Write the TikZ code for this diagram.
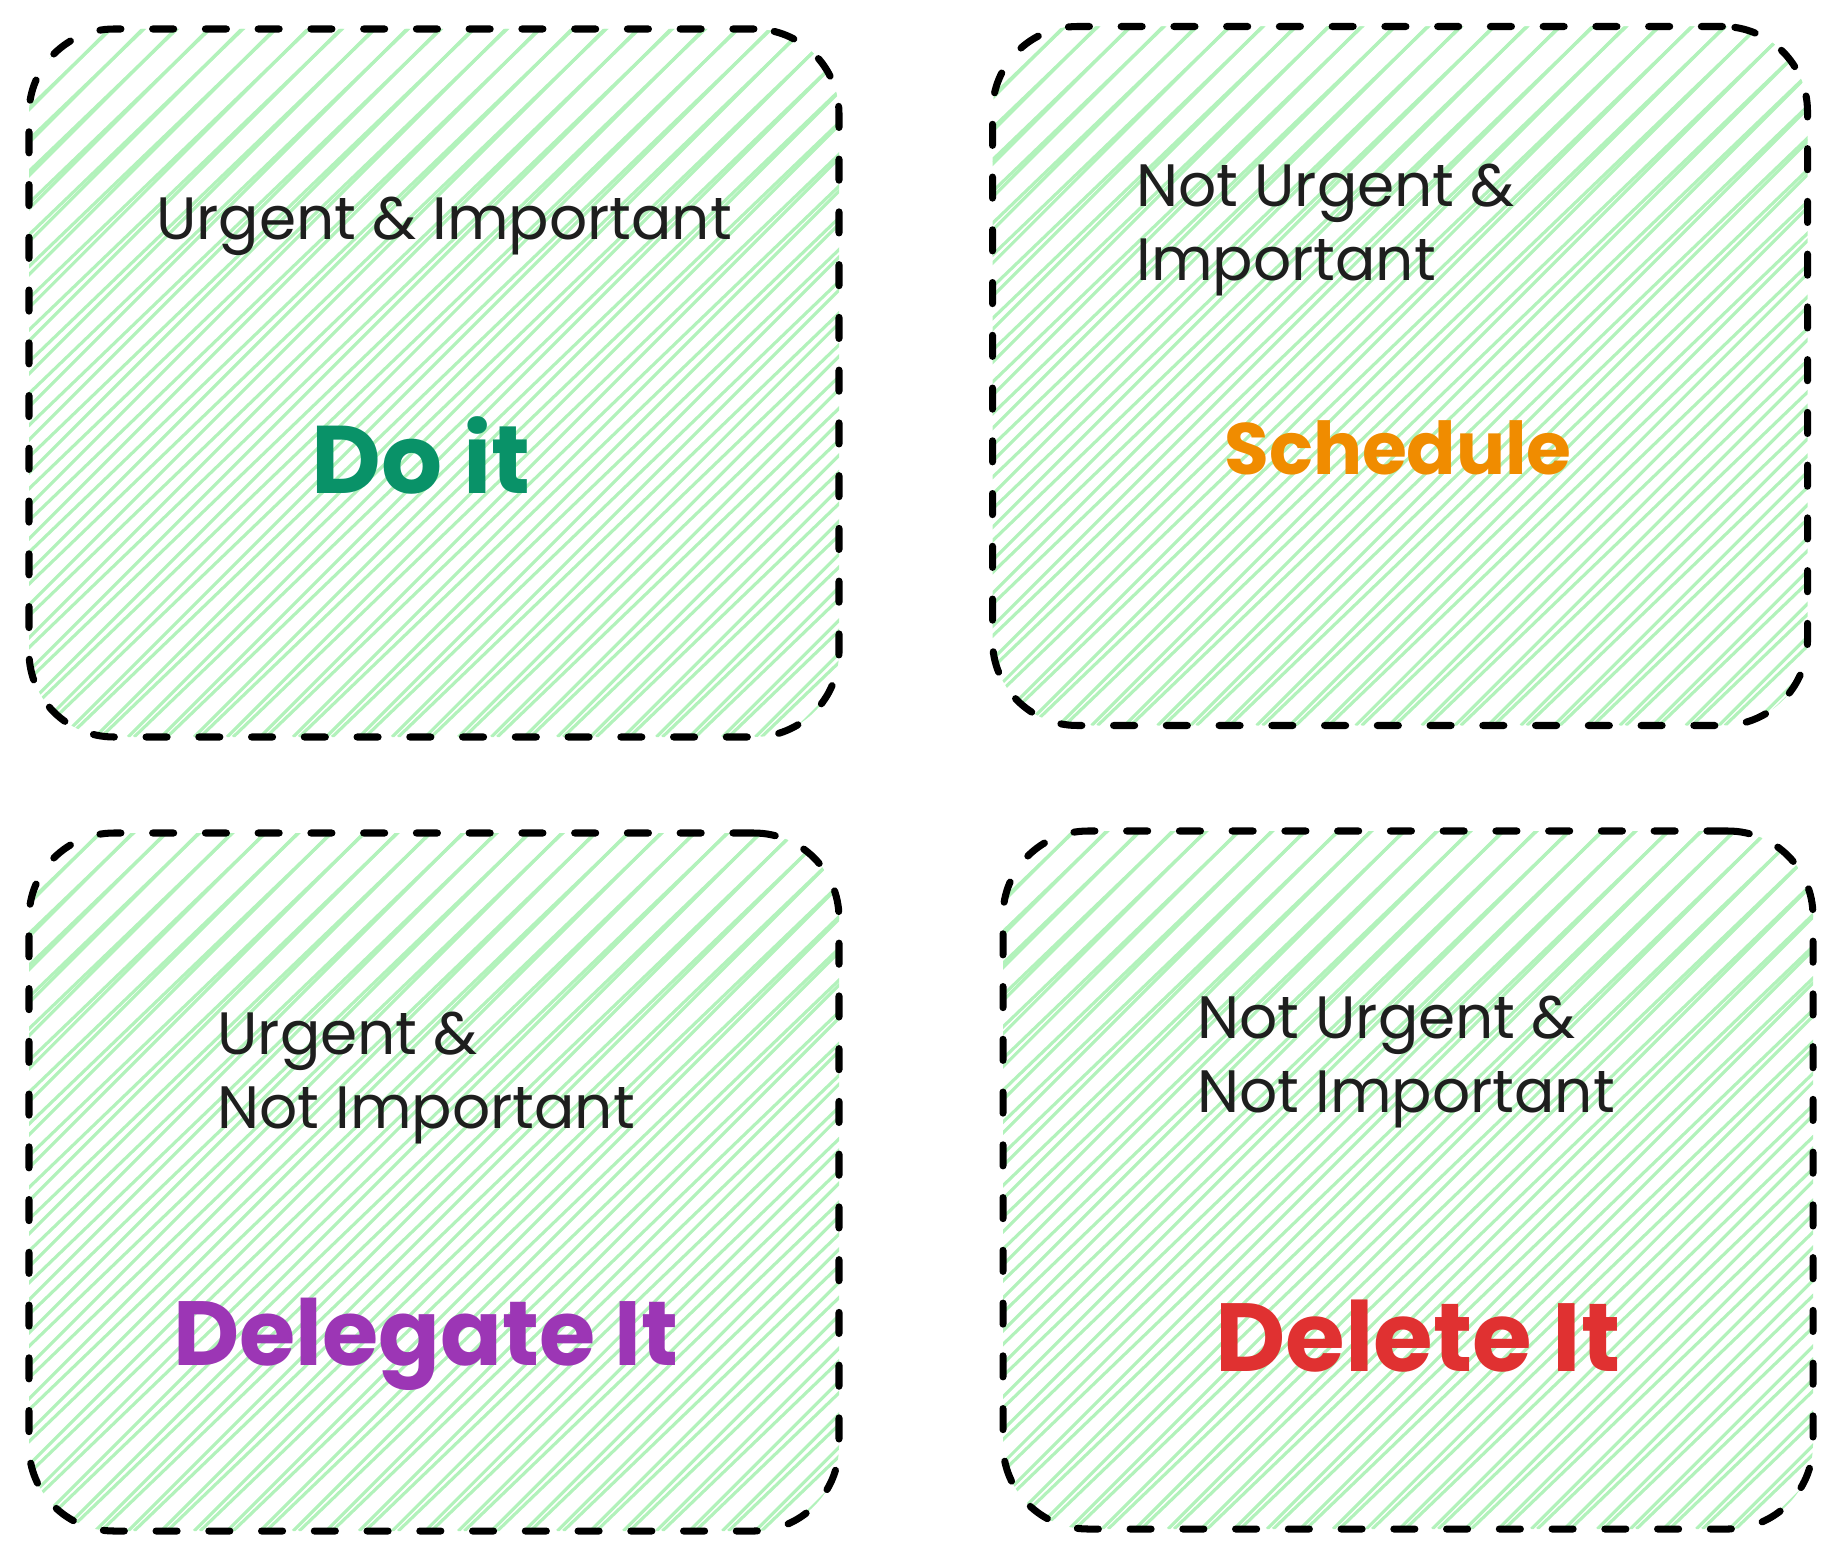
\documentclass[tikz,border=0pt]{standalone}
\usepackage{fontspec}
\usetikzlibrary{calc}
\setmainfont{Poppins}
\definecolor{hatchGreen}{HTML}{B2F2BB}
\definecolor{inkBlack}{HTML}{1E1E1E}
\definecolor{doGreen}{HTML}{099268}
\definecolor{scheduleOrange}{HTML}{F08C00}
\definecolor{delegatePurple}{HTML}{9C36B5}
\definecolor{deleteRed}{HTML}{E03131}
\begin{document}
\begin{tikzpicture}
[x=0.01cm,y=-0.01cm,
  hatchDecorate/.style={-,solid,line cap=butt,hatchGreen,line width=0.9pt},%
  boxDecorate/.style={shape=rectangle,rounded corners=0.85cm,draw=black,
    line width=2pt,line cap=round,dash pattern=on 6pt off 9pt,
    path picture={
      \foreach \k in {-23,...,26}
      {
        \draw[hatchDecorate] ($(path picture bounding box.south west)+(\k*0.33cm,0)$) -- ++(10cm,10cm);
        \draw[hatchDecorate] ($(path picture bounding box.south west)+(\k*0.33cm+0.06cm,0)$) -- ++(10.4cm,10cm);
      }
    }},
  titleDecorate/.style={inkBlack,align=left,font=\fontsize{17}{21}\selectfont},
  actionDecorate/.style={font=\fontsize{#1}{36}\selectfont\bfseries},
  scale=1]
\useasboundingbox (0,0) rectangle (1840,1558);
%% quadrants
\foreach \boxname/\x/\y/\w/\h in {
  doBox/434/383/810/708, scheduleBox/1400/376/815/699,
  delegateBox/434/1182/810/698, deleteBox/1408/1180/810/698}
{
  \node (\boxname) at (\x,\y) [boxDecorate,minimum width=\w*0.01cm,minimum height=\h*0.01cm] {};
}
%% quadrant titles
\node (doTitle) at (444,226) [titleDecorate] {Urgent \& Important};
\node (scheduleTitle) at (1124,230) [titleDecorate,anchor=west] {Not Urgent \&\\Important};
\node (delegateTitle) at (205,1078) [titleDecorate,anchor=west] {Urgent \&\\Not Important};
\node (deleteTitle) at (1185,1062) [titleDecorate,anchor=west] {Not Urgent \&\\Not Important};
%% actions
\foreach \actname/\x/\y/\col/\sz/\txt in {
  doAct/421/455/doGreen/27.3/Do it, scheduleAct/1398/448/scheduleOrange/20.7/Schedule,
  delegateAct/426/1344/delegatePurple/25.9/Delegate It, deleteAct/1418/1336/deleteRed/27.5/Delete It}
{
  \node (\actname) at (\x,\y) [actionDecorate=\sz,text=\col] {\txt};
}
\end{tikzpicture}
\end{document}
